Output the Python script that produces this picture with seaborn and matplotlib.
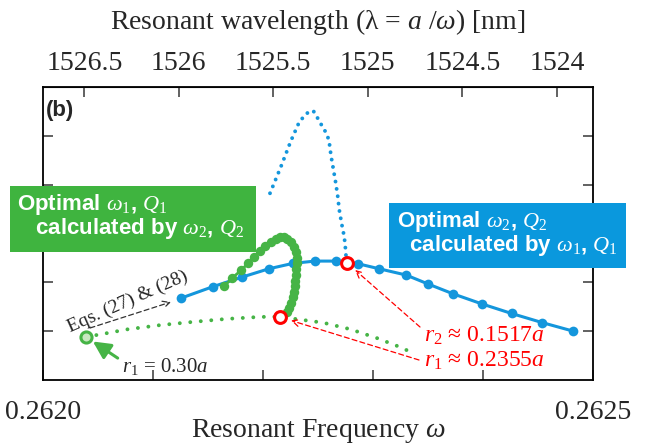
import matplotlib
matplotlib.use("Agg")
import matplotlib.pyplot as plt
import seaborn as sns
import pandas as pd
from matplotlib.patches import Rectangle

# ---------------- data (omega, arbitrary Q-like units) ----------------
A_NM = 400.0  # lattice constant a [nm], lambda = a / omega

blue_w = [0.262125, 0.262154, 0.262181, 0.262205, 0.262227, 0.262247, 0.262266,
          0.262286, 0.262305, 0.262330, 0.262350, 0.262373, 0.262399, 0.262426,
          0.262454, 0.262482]
blue_q = [1.667, 1.902, 2.102, 2.270, 2.382, 2.429, 2.429, 2.376, 2.274, 2.143,
          1.959, 1.755, 1.550, 1.354, 1.166, 0.992]

green_w = [0.2621644, 0.2621716, 0.2621798, 0.2621862, 0.2621917, 0.2621971,
           0.2622017, 0.2622071, 0.2622117, 0.2622153, 0.2622189, 0.2622221,
           0.2622249, 0.2622276, 0.2622301, 0.2622308, 0.2622308, 0.2622303,
           0.2622299, 0.2622289, 0.2622285, 0.2622276, 0.2622267, 0.2622253,
           0.2622239, 0.2622221]
green_q = [1.912, 2.076, 2.239, 2.382, 2.505, 2.638, 2.730, 2.818, 2.883, 2.914,
           2.924, 2.883, 2.812, 2.720, 2.618, 2.495, 2.382, 2.260, 2.137, 2.014,
           1.912, 1.789, 1.687, 1.564, 1.472, 1.391]

green_dot_w = [0.2620388, 0.2620516, 0.2620759, 0.2621062, 0.2621364, 0.2621668,
               0.2621971, 0.2622153, 0.2622308, 0.2622544, 0.2622790, 0.2623035,
               0.2623245, 0.2623363]
green_dot_q = [0.875, 0.924, 1.027, 1.115, 1.182, 1.243, 1.284, 1.288, 1.237,
               1.166, 1.033, 0.849, 0.665, 0.542]

blue_dot_w = [0.2622062, 0.2622159, 0.2622250, 0.2622326, 0.2622371, 0.2622412,
              0.2622456, 0.2622487, 0.2622517, 0.2622553, 0.2622583, 0.2622601,
              0.2622617, 0.2622638, 0.2622660, 0.2622678, 0.2622692, 0.2622714,
              0.2622738, 0.2622751, 0.2622756]
blue_dot_q = [3.820, 4.352, 4.883, 5.272, 5.399, 5.487, 5.511, 5.395, 5.272,
              5.137, 5.014, 4.863, 4.591, 4.319, 4.033, 3.759, 3.481, 3.194,
              2.920, 2.628, 2.409]

opt_r2 = (0.262276, 2.397)   # r2 ~ 0.1517a on blue curve
opt_r1 = (0.2622156, 1.278)  # r1 ~ 0.2355a on green dotted curve
start_r1 = (0.2620388, 0.875)  # r1 = 0.30a

x_ticks = [0.2620, 0.2621, 0.2622, 0.2623, 0.2624, 0.2625]
x_ticklabels = ["0.2620", "", "", "", "", "0.2625"]
y_ticks = [1, 2, 3, 4, 5]
top_ticks = [1526.5, 1526, 1525.5, 1525, 1524.5, 1524]
top_ticklabels = ["1526.5", "1526", "1525.5", "1525", "1524.5", "1524"]

# ---------------- style ----------------
sns.set_style("ticks")
plt.rcParams["font.family"] = ["Liberation Serif", "DejaVu Serif"]
plt.rcParams["mathtext.fontset"] = "custom"
plt.rcParams["mathtext.rm"] = "Liberation Serif"
plt.rcParams["mathtext.it"] = "Liberation Serif:italic"
plt.rcParams["mathtext.bf"] = "Liberation Serif:bold"

BLUE = "#1496dc"
BLUE_BOX = "#0a98dd"
GREEN = "#46b446"
GREEN_BOX = "#3fb43f"
RED = "#ff0000"

W, H = 659, 446
fig = plt.figure(figsize=(W / 100, H / 100), dpi=100)
ax = fig.add_axes([43.3 / W, 1 - 379.5 / H, (593 - 43.3) / W, (379.5 - 87) / H])


def px(x, y):
    return (x / W, 1 - y / H)


# ---------------- curves ----------------
sns.lineplot(x=blue_dot_w, y=blue_dot_q, sort=False, estimator=None, ax=ax,
             color=BLUE, lw=2.8, linestyle=(0, (0.01, 1.9)), dash_capstyle="round")
sns.lineplot(x=green_dot_w, y=green_dot_q, sort=False, estimator=None, ax=ax,
             color=GREEN, lw=2.8, linestyle=(0, (0.01, 2.7)), dash_capstyle="round")
sns.lineplot(x=blue_w, y=blue_q, sort=False, estimator=None, ax=ax,
             color=BLUE, lw=2.2, marker="o", markersize=7, markeredgewidth=0)
sns.lineplot(x=green_w, y=green_q, sort=False, estimator=None, ax=ax,
             color=GREEN, lw=2.0, marker="o", markersize=6.8, markeredgewidth=0)

ax.plot([opt_r2[0]], [opt_r2[1]], "o", ms=8.5, mfc="white", mec=RED, mew=2.2, zorder=5)
ax.plot([opt_r1[0]], [opt_r1[1]], "o", ms=8.5, mfc="white", mec=RED, mew=2.2, zorder=5)
ax.plot([start_r1[0]], [start_r1[1]], "o", ms=8, mfc="#c8e8c0", mec=GREEN, mew=2.2, zorder=5)

# ---------------- axes ----------------
ax.set_xlim(0.2620, 0.2625)
ax.set_ylim(0, 6)
ax.set_xticks(x_ticks)
ax.set_xticklabels(x_ticklabels)
ax.set_yticks(y_ticks)
ax.set_yticklabels([])
ax.tick_params(axis="both", direction="in", length=7, width=1.3, color="#555555",
               labelsize=20, right=True, top=False)
ax.tick_params(axis="x", pad=15)
for s in ax.spines.values():
    s.set_linewidth(1.3)
    s.set_color("black")
ax.set_xlabel(r"Resonant Frequency $\omega$", fontsize=20, labelpad=-6)
ax.set_ylabel("")

f = lambda v: A_NM / v
sec = ax.secondary_xaxis("top", functions=(f, f))
sec.set_xticks(top_ticks)
sec.set_xticklabels(top_ticklabels)
sec.tick_params(direction="in", length=7, width=1.3, color="#555555", labelsize=20, pad=8)
sec.set_xlabel(r"Resonant wavelength (λ = $a$ /$\omega$) [nm]", fontsize=20, labelpad=16)

# ---------------- annotations ----------------
fig.text(*px(46, 116), "(b)", fontsize=16, fontweight="bold", family="Liberation Sans",
         ha="left", va="baseline")

# green box (text anchored at the baseline of its second line)
fig.patches.append(Rectangle(px(10, 251.7), 246 / W, 65.7 / H, transform=fig.transFigure,
                             facecolor=GREEN_BOX, edgecolor="none", zorder=10))
fig.text(*px(17, 234), "Optimal $\\omega_1$, $Q_1$\n   calculated by $\\omega_2$, $Q_2$",
         fontsize=16, fontweight="bold", family="Liberation Sans", color="white",
         ha="left", va="baseline", linespacing=0.95, zorder=11)

# blue box
fig.patches.append(Rectangle(px(389.3, 268.3), 236.7 / W, 65.6 / H, transform=fig.transFigure,
                             facecolor=BLUE_BOX, edgecolor="none", zorder=10))
fig.text(*px(396.7, 251), "Optimal $\\omega_2$, $Q_2$\n  calculated by $\\omega_1$, $Q_1$",
         fontsize=16, fontweight="bold", family="Liberation Sans", color="white",
         ha="left", va="baseline", linespacing=0.95, zorder=11)

# Eqs arrow and text
ax.annotate("", xy=px(171, 302), xytext=px(90, 328), xycoords="figure fraction",
            textcoords="figure fraction",
            arrowprops=dict(arrowstyle="->,head_length=0.5,head_width=0.25",
                            color="#333333", lw=0.9, linestyle=(0, (4, 2.5)),
                            shrinkA=0, shrinkB=0))
fig.text(*px(128, 302), "Eqs. (27) & (28)", fontsize=14, rotation=24,
         rotation_mode="anchor", ha="center", va="center")

# green arrow to r1=0.30a
ax.annotate(r"$r_1$ = 0.30$a$", xy=start_r1, xycoords="data",
            xytext=px(122, 372), textcoords="figure fraction", fontsize=15,
            ha="left", va="baseline",
            arrowprops=dict(arrowstyle="-|>,head_length=0.7,head_width=0.35",
                            color=GREEN, lw=2.2, shrinkA=0, shrinkB=6,
                            relpos=(-0.05, 0.9)))

# red arrows
ax.annotate("", xy=opt_r2, xycoords="data", xytext=px(420, 327), textcoords="figure fraction",
            arrowprops=dict(arrowstyle="->,head_length=0.5,head_width=0.25", color=RED,
                            lw=0.9, linestyle=(0, (4, 2.5)), shrinkA=0, shrinkB=8))
ax.annotate("", xy=opt_r1, xycoords="data", xytext=px(419, 360), textcoords="figure fraction",
            arrowprops=dict(arrowstyle="->,head_length=0.5,head_width=0.25", color=RED,
                            lw=0.9, linestyle=(0, (4, 2.5)), shrinkA=0, shrinkB=8))
fig.text(*px(424, 341.7), r"$r_2$ ≈ 0.1517$a$", fontsize=17, color=RED, ha="left", va="baseline")
fig.text(*px(424, 366.7), r"$r_1$ ≈ 0.2355$a$", fontsize=17, color=RED, ha="left", va="baseline")

fig.savefig("out.png", dpi=100)
